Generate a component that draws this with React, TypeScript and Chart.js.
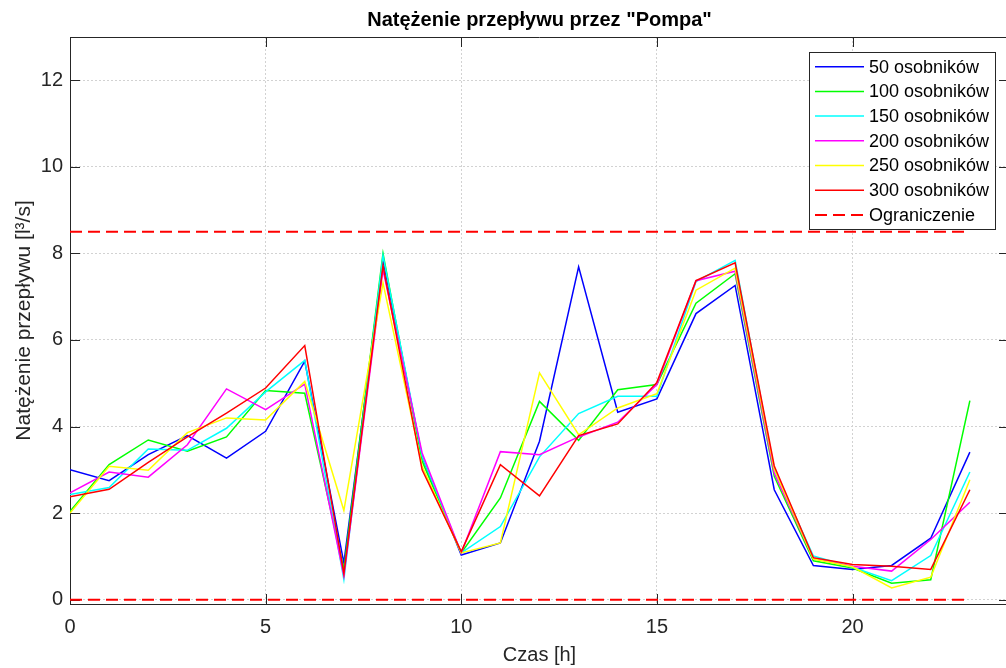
import React, { useEffect, useRef } from 'react';
import { Chart, registerables } from 'chart.js';

Chart.register(...registerables);

// ---- data ----
const hours = [0, 1, 2, 3, 4, 5, 6, 7, 8, 9, 10, 11, 12, 13, 14, 15, 16, 17, 18, 19, 20, 21, 22, 23];

const s50 = [3.0, 2.75, 3.35, 3.79, 3.27, 3.89, 5.51, 0.85, 7.85, 3.3, 1.03, 1.31, 3.66, 7.69, 4.33, 4.64, 6.61, 7.26, 2.54, 0.79, 0.7, 0.79, 1.42, 3.41];
const s100 = [2.04, 3.12, 3.69, 3.43, 3.76, 4.83, 4.77, 0.7, 8.0, 3.2, 1.08, 2.35, 4.58, 3.68, 4.85, 4.97, 6.85, 7.53, 2.85, 0.9, 0.73, 0.38, 0.46, 4.6];
const s150 = [2.43, 2.59, 3.48, 3.45, 3.96, 4.8, 5.53, 0.47, 7.95, 3.31, 1.08, 1.69, 3.3, 4.3, 4.7, 4.7, 7.35, 7.84, 3.0, 1.01, 0.75, 0.44, 1.02, 2.95];
const s200 = [2.47, 2.95, 2.83, 3.58, 4.87, 4.39, 4.98, 0.55, 7.62, 3.39, 1.08, 3.42, 3.35, 3.76, 4.1, 4.97, 7.37, 7.59, 2.92, 0.95, 0.77, 0.66, 1.39, 2.25];
const s250 = [2.0, 3.08, 2.99, 3.86, 4.2, 4.15, 5.04, 2.06, 7.32, 3.08, 1.08, 1.31, 5.24, 3.81, 4.43, 4.76, 7.15, 7.66, 3.02, 0.94, 0.76, 0.27, 0.52, 2.77];
const s300 = [2.38, 2.55, 3.17, 3.76, 4.31, 4.89, 5.87, 0.6, 7.72, 3.0, 1.11, 3.12, 2.4, 3.79, 4.06, 5.02, 7.37, 7.78, 3.09, 0.97, 0.81, 0.77, 0.7, 2.54];

const seriesLabels = ['50 osobników', '100 osobników', '150 osobników', '200 osobników', '250 osobników', '300 osobników'];
const seriesColors = ['#0000ff', '#00ff00', '#00ffff', '#ff00ff', '#ffff00', '#ff0000'];
const seriesValues = [s50, s100, s150, s200, s250, s300];

const limitLabel = 'Ograniczenie';
const limitUpper = 8.5;
const limitLower = 0;
const limitStart = 0;
const limitEnd = 23;

const xTickValues = [0, 5, 10, 15, 20];
const yTickValues = [0, 2, 4, 6, 8, 10, 12];

const titleText = 'Natężenie przepływu przez "Pompa"';
const xTitle = 'Czas [h]';
const yTitle = 'Natężenie przepływu [l³/s]';

const FONT = '"Liberation Sans", Arial, sans-serif';
const AXIS_COLOR = '#262626';

const frameTicks = {
  id: 'frameTicks',
  beforeDatasetsDraw(chart: any) {
    const { ctx, chartArea: a, scales } = chart;
    const xs = scales.x;
    const ys = scales.y;
    ctx.save();
    ctx.strokeStyle = AXIS_COLOR;
    ctx.lineWidth = 1;
    ctx.beginPath();
    ctx.moveTo(a.left, a.top + 0.5);
    ctx.lineTo(a.right, a.top + 0.5);
    ctx.moveTo(a.right - 0.5, a.top);
    ctx.lineTo(a.right - 0.5, a.bottom);
    xs.ticks.forEach((t: any) => {
      const px = Math.round(xs.getPixelForValue(t.value)) + 0.5;
      ctx.moveTo(px, a.bottom);
      ctx.lineTo(px, a.bottom - 10);
      ctx.moveTo(px, a.top);
      ctx.lineTo(px, a.top + 10);
    });
    ys.ticks.forEach((t: any) => {
      const py = Math.round(ys.getPixelForValue(t.value)) + 0.5;
      ctx.moveTo(a.left, py);
      ctx.lineTo(a.left + 10, py);
      ctx.moveTo(a.right, py);
      ctx.lineTo(a.right - 10, py);
    });
    ctx.stroke();
    ctx.restore();
  },
};

const boxLegend = {
  id: 'boxLegend',
  afterDatasetsDraw(chart: any) {
    const { ctx, chartArea: a } = chart;
    const datasets = chart.data.datasets;
    const right = a.right - 14;
    const left = right - 186;
    const top = a.top + 15;
    const rowH = 24.7;
    const height = 177;
    ctx.save();
    ctx.fillStyle = '#ffffff';
    ctx.fillRect(left, top, right - left, height);
    ctx.strokeStyle = AXIS_COLOR;
    ctx.lineWidth = 1;
    ctx.strokeRect(Math.round(left) + 0.5, Math.round(top) + 0.5, right - left, height);
    ctx.font = `18px ${FONT}`;
    ctx.textBaseline = 'middle';
    ctx.textAlign = 'left';
    datasets.forEach((ds: any, i: number) => {
      const cy = top + 14.7 + i * rowH;
      ctx.strokeStyle = ds.borderColor;
      ctx.lineWidth = ds.borderWidth;
      ctx.setLineDash(ds.borderDash || []);
      ctx.beginPath();
      ctx.moveTo(left + 6, cy);
      ctx.lineTo(left + 55, cy);
      ctx.stroke();
      ctx.setLineDash([]);
      ctx.fillStyle = '#000000';
      ctx.fillText(ds.label, left + 60, cy + 1);
    });
    ctx.restore();
  },
};

export default function App() {
  const ref = useRef<HTMLCanvasElement>(null);

  useEffect(() => {
    if (!ref.current) return;
    const datasets: any[] = seriesValues.map((vals, i) => ({
      label: seriesLabels[i],
      data: hours.map((h, j) => ({ x: h, y: vals[j] })),
      borderColor: seriesColors[i],
      backgroundColor: seriesColors[i],
      borderWidth: 1.5,
      pointRadius: 0,
      tension: 0,
      fill: false,
      order: 10 - i,
    }));
    datasets.push({
      label: limitLabel,
      data: [
        { x: limitStart, y: limitUpper },
        { x: limitEnd, y: limitUpper },
        { x: limitEnd, y: null },
        { x: limitStart, y: limitLower },
        { x: limitEnd, y: limitLower },
      ],
      borderColor: '#ff0000',
      backgroundColor: '#ff0000',
      borderWidth: 2,
      borderDash: [12, 6],
      pointRadius: 0,
      spanGaps: false,
      fill: false,
      order: 0,
    });

    const chart = new Chart(ref.current, {
      type: 'line',
      data: { datasets },
      plugins: [frameTicks, boxLegend],
      options: {
        animation: false,
        responsive: false,
        devicePixelRatio: 1,
        layout: { padding: { left: 0, right: 7, top: 0, bottom: 0 } },
        plugins: {
          legend: { display: false },
          tooltip: { enabled: false },
          title: {
            display: true,
            text: titleText,
            color: '#000000',
            fullSize: false,
            font: { family: FONT, size: 20, weight: 'bold' },
            padding: { top: 8, bottom: 5 },
          },
        },
        scales: {
          x: {
            type: 'linear',
            min: 0,
            max: 24,
            afterBuildTicks: (s: any) => {
              s.ticks = xTickValues.map((v) => ({ value: v }));
            },
            afterFit: (s: any) => {
              s.height = 64;
            },
            ticks: {
              color: AXIS_COLOR,
              font: { family: FONT, size: 20 },
              padding: 11,
              maxRotation: 0,
              autoSkip: false,
            },
            grid: { color: '#d2d2d2', lineWidth: 1, drawTicks: false },
            border: { display: true, color: AXIS_COLOR, width: 1, dash: [2, 2] },
            title: {
              display: true,
              text: xTitle,
              color: AXIS_COLOR,
              font: { family: FONT, size: 20 },
              padding: { top: 0, bottom: 1 },
            },
          },
          y: {
            type: 'linear',
            min: -0.1,
            max: 13,
            afterBuildTicks: (s: any) => {
              s.ticks = yTickValues.map((v) => ({ value: v }));
            },
            afterFit: (s: any) => {
              s.width = 70;
            },
            ticks: {
              color: AXIS_COLOR,
              font: { family: FONT, size: 20 },
              padding: 7,
              autoSkip: false,
            },
            grid: { color: '#d2d2d2', lineWidth: 1, drawTicks: false },
            border: { display: true, color: AXIS_COLOR, width: 1, dash: [2, 2] },
            title: {
              display: true,
              text: yTitle,
              color: AXIS_COLOR,
              font: { family: FONT, size: 21 },
              padding: { top: 12, bottom: 0 },
            },
          },
        },
      } as any,
    });
    return () => chart.destroy();
  }, []);

  return (
    <div
      style={{
        position: 'fixed',
        left: 0,
        top: 0,
        width: 1006,
        height: 668,
        overflow: 'hidden',
        background: '#ffffff',
      }}
    >
      <canvas ref={ref} width={1016} height={668} style={{ display: 'block', width: 1016, height: 668 }} />
    </div>
  );
}
